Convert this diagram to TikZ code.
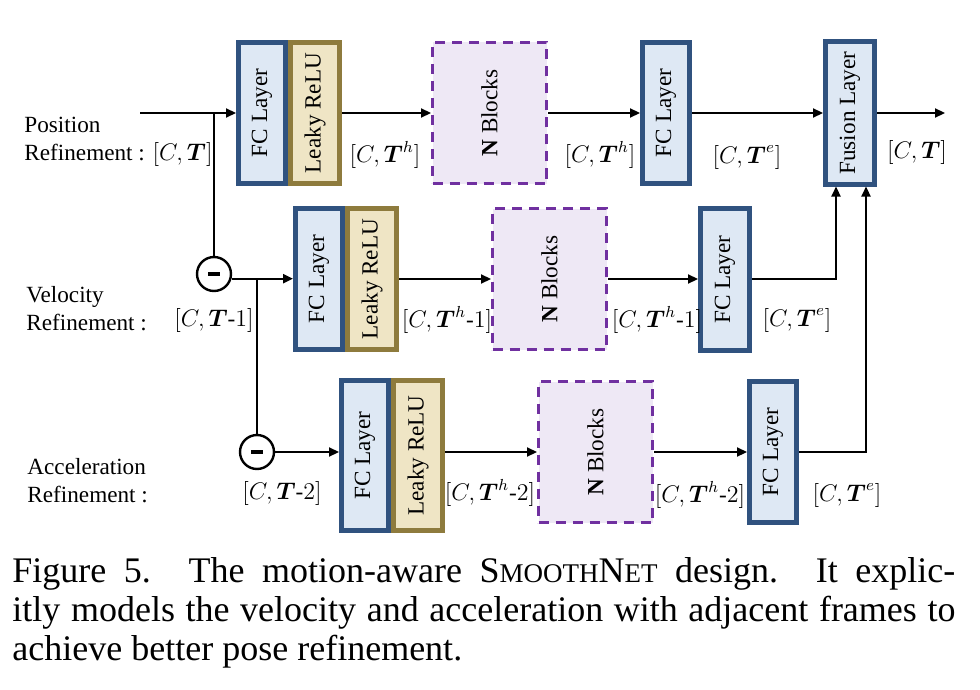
\documentclass[tikz,border=0pt]{standalone}
\usepackage{amsmath}
\usepackage{fontspec}
\setmainfont{Liberation Serif}
\usetikzlibrary{arrows.meta}

\definecolor{fcline}{HTML}{30527F}
\definecolor{fcfill}{HTML}{DEE8F4}
\definecolor{reluline}{HTML}{8E7B3D}
\definecolor{relufill}{HTML}{EFE5C5}
\definecolor{blkline}{HTML}{7030A0}
\definecolor{blkfill}{HTML}{EEE8F5}

\newcommand{\dims}[1]{$[C,\boldsymbol{T}#1]$}
\newcommand{\smc}{\fontsize{13.5}{13.5}\selectfont}

\tikzset{
  fcbox/.style={draw=fcline, fill=fcfill, line width=2.5pt, inner sep=0pt,
    minimum width=23.5pt, minimum height=70.5pt},
  relubox/.style={draw=reluline, fill=relufill, line width=2.5pt, inner sep=0pt,
    minimum width=24.5pt, minimum height=70.5pt},
  blkbox/.style={draw=blkline, fill=blkfill, line width=1.5pt, inner sep=0pt,
    dash pattern=on 5pt off 3.5pt, minimum width=57pt, minimum height=70.5pt},
  subnode/.style={circle, draw, line width=1.2pt, fill=white, minimum size=17pt, inner sep=0pt},
  rowname/.style={align=left, anchor=west, inner sep=0pt},
  link/.style={line width=1.1pt, -{Triangle[length=5pt,width=4.5pt]}},
  wire/.style={line width=1.1pt},
  caption/.style={font=\fontsize{18}{19.5}\selectfont, inner sep=0pt, anchor=base west},
}

\begin{document}
\begin{tikzpicture}[x=0.5pt, y=0.5pt, every node/.style={font=\fontsize{11.6}{14}\selectfont}]
\useasboundingbox (0,0) rectangle (980,-690);

% position row
\node[rowname] (posname) at (24,-142) {Position\\Refinement : \dims{}};
\node[fcbox] (fc1) at (262,-113) {\rotatebox{90}{FC Layer}};
\node[relubox] (relu1) at (315,-113) {\rotatebox{90}{Leaky ReLU}};
\node[blkbox] (blk1) at (489.5,-113) {\rotatebox{90}{\textbf{N} Blocks}};
\node[fcbox] (fc2) at (666,-113) {\rotatebox{90}{FC Layer}};
\node[fcbox, minimum width=24.5pt, minimum height=71pt] (fuse) at (850,-113) {\rotatebox{90}{Fusion Layer}};

\node (dimr1) at (385,-155) {\dims{^h}};
\node (dimb1) at (600,-155) {\dims{^h}};
\node (dimf1) at (747,-157) {\dims{^e}};
\node (dimo) at (917,-153) {\dims{}};

% velocity row
\node[rowname] (velname) at (26,-309) {Velocity\\Refinement :};
\node[subnode] (sub1) at (214,-274) {\rule{6pt}{2pt}};
\node[fcbox] (fc3) at (319,-279) {\rotatebox{90}{FC Layer}};
\node[relubox] (relu2) at (372,-279) {\rotatebox{90}{Leaky ReLU}};
\node[blkbox] (blk2) at (549.5,-279) {\rotatebox{90}{\textbf{N} Blocks}};
\node[fcbox, minimum width=24.5pt, minimum height=71pt] (fc4) at (725,-279.5) {\rotatebox{90}{FC Layer}};

\node (dims1) at (214,-320) {\dims{\text{-}1}};
\node (dimr2) at (447,-320) {\dims{^h\text{-}1}};
\node (dimb2) at (657,-320) {\dims{^h\text{-}1}};
\node (dimf2) at (797,-320) {\dims{^e}};

% acceleration row
\node[rowname] (accname) at (27,-481) {Acceleration\\Refinement :};
\node[subnode] (sub2) at (257,-452) {\rule{6pt}{2pt}};
\node[fcbox, minimum height=75pt] (fc5) at (365,-455.5) {\rotatebox{90}{FC Layer}};
\node[relubox, minimum height=75pt] (relu3) at (418,-455.5) {\rotatebox{90}{Leaky ReLU}};
\node[blkbox] (blk3) at (595.5,-452) {\rotatebox{90}{\textbf{N} Blocks}};
\node[fcbox] (fc6) at (773,-452) {\rotatebox{90}{FC Layer}};

\node (dims2) at (282,-493) {\dims{\text{-}2}};
\node (dimr3) at (490,-493) {\dims{^h\text{-}2}};
\node (dimb3) at (700,-495) {\dims{^h\text{-}2}};
\node (dimf3) at (847,-495) {\dims{^e}};

\coordinate (inpos) at (140,-113);
\coordinate (outpos) at (945,-113);

\draw[link] (inpos) -- (fc1);
\draw[link] (relu1) -- (blk1);
\draw[link] (blk1) -- (fc2);
\draw[link] (fc2) -- (fuse);
\draw[link] (fuse) -- (outpos);

\draw[wire] (inpos -| sub1) -- (sub1);
\draw[link] (sub1.-15) -- (sub1.-15 -| fc3.west);
\draw[link] (relu2) -- (blk2);
\draw[link] (blk2) -- (fc4.west |- blk2);
\draw[link] (fc4.east |- blk2) -| ([xshift=-7pt]fuse.south);

\draw[wire] (sub1.-15 -| sub2) -- (sub2);
\draw[link] (sub2) -- (sub2 -| fc5.west);
\draw[link] (relu3.east |- blk3) -- (blk3);
\draw[link] (blk3) -- (fc6);
\draw[link] (fc6) -| ([xshift=8pt]fuse.south);

% caption
\node[caption] (cap1) at (12,-582) {\makebox[471.5pt][s]{Figure 5. The motion-aware S{\smc MOOTH}N{\smc ET} design. It explic-}};
\node[caption] (cap2) at (12,-621) {\makebox[471.5pt][s]{itly models the velocity and acceleration with adjacent frames to}};
\node[caption] (cap3) at (12,-660) {achieve better pose refinement.};

\end{tikzpicture}
\end{document}
